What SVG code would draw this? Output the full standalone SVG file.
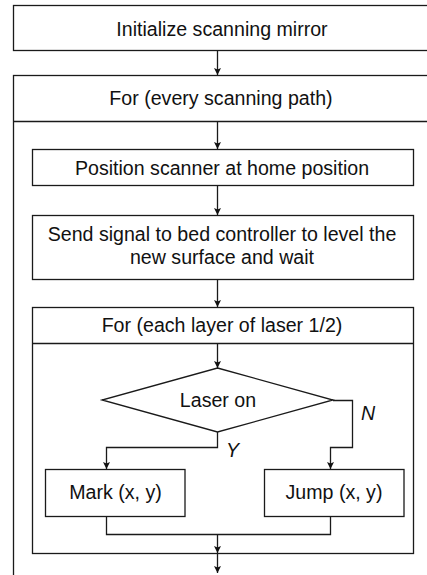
<svg xmlns="http://www.w3.org/2000/svg" width="427" height="575" viewBox="0 0 427 575">
<style>
.box{fill:#fff;stroke:#1a1a1a;stroke-width:1.3}
.ln{fill:none;stroke:#1a1a1a;stroke-width:1.3}
.t{font-family:"Liberation Sans",Arial,sans-serif;font-size:19.6px;fill:#111;text-anchor:middle}
.it{font-family:"Liberation Sans",Arial,sans-serif;font-size:19.6px;fill:#111;font-style:italic}
</style>
<defs>
<marker id="ah" markerUnits="userSpaceOnUse" markerWidth="8" markerHeight="8" refX="7" refY="3.5" orient="auto">
<path d="M0,0 L7,3.5 L0,7 L1.5,3.5 z" fill="#111"/>
</marker>
</defs>
<g id="n-init">
<rect class="box" x="13.5" y="5.5" width="417" height="45"/>
<text class="t" x="222" y="35.5">Initialize scanning mirror</text>
</g>
<g id="n-outer">
<rect class="box" x="13.5" y="75.5" width="417" height="520"/>
<line class="ln" x1="13.5" y1="121.5" x2="430.5" y2="121.5"/>
<text class="t" x="221" y="105">For (every scanning path)</text>
</g>
<g id="n-position">
<rect class="box" x="32.5" y="149.5" width="381" height="36"/>
<text class="t" x="222" y="175">Position scanner at home position</text>
</g>
<g id="n-send">
<rect class="box" x="32.5" y="215.5" width="381" height="64"/>
<text class="t" x="222" y="241">Send signal to bed controller to level the</text>
<text class="t" x="222" y="264">new surface and wait</text>
</g>
<g id="n-inner">
<rect class="box" x="32.5" y="307.5" width="381" height="246"/>
<line class="ln" x1="32.5" y1="343.5" x2="413.5" y2="343.5"/>
<text class="t" x="222" y="332">For (each layer of laser 1/2)</text>
</g>
<g id="n-laser">
<polygon class="box" points="217.5,368 333,400 217.5,432 102,400"/>
<text class="t" x="218" y="407">Laser on</text>
</g>
<g id="n-mark">
<rect class="box" x="45.5" y="469.5" width="139.5" height="47"/>
<text class="t" x="115.5" y="499">Mark (x, y)</text>
</g>
<g id="n-jump">
<rect class="box" x="264.5" y="469.5" width="139.5" height="47"/>
<text class="t" x="334" y="499">Jump (x, y)</text>
</g>
<g id="connectors">
<line class="ln" x1="217.5" y1="51" x2="217.5" y2="75" marker-end="url(#ah)"/>
<line class="ln" x1="217.5" y1="122" x2="217.5" y2="149" marker-end="url(#ah)"/>
<line class="ln" x1="217.5" y1="186" x2="217.5" y2="215" marker-end="url(#ah)"/>
<line class="ln" x1="217.5" y1="280" x2="217.5" y2="307" marker-end="url(#ah)"/>
<line class="ln" x1="217.5" y1="344" x2="217.5" y2="368" marker-end="url(#ah)"/>
<polyline class="ln" points="217.5,432 217.5,447.5 106.5,447.5 106.5,469" marker-end="url(#ah)"/>
<polyline class="ln" points="333,400.5 352.5,400.5 352.5,447.5 330.5,447.5 330.5,469" marker-end="url(#ah)"/>
<polyline class="ln" points="106.5,517 106.5,534.5 330.5,534.5 330.5,517"/>
<line class="ln" x1="217.5" y1="534.5" x2="217.5" y2="553" marker-end="url(#ah)"/>
<line class="ln" x1="217.5" y1="554" x2="217.5" y2="573" marker-end="url(#ah)"/>
<text class="it" x="361" y="420">N</text>
<text class="it" x="226" y="457">Y</text>
</g>
</svg>
